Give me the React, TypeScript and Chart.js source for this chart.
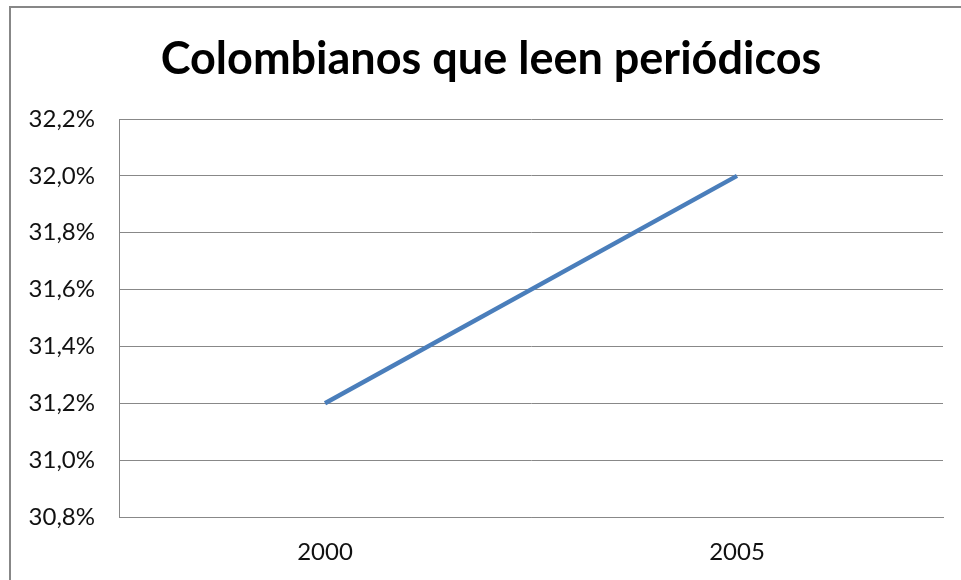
import React, { useEffect, useRef } from "react";
import { Chart, registerables } from "chart.js";

Chart.register(...registerables);

const titleText = "Colombianos que leen periódicos";
const categories = ["2000", "2005"];
const seriesValues = [31.2, 32.0];
const yMin = 30.8;
const yMax = 32.2;
const yStep = 0.2;

const framePlugin = {
  id: "frame",
  beforeDraw(chart: any) {
    const ctx = chart.ctx;
    ctx.save();
    ctx.fillStyle = "#ffffff";
    ctx.fillRect(0, 0, chart.width, chart.height);
    ctx.strokeStyle = "#878787";
    ctx.lineWidth = 2;
    ctx.strokeRect(10, 7, chart.width + 50, chart.height + 50);
    ctx.restore();
  },
  afterDraw(chart: any) {
    const ctx = chart.ctx;
    ctx.save();
    ctx.fillStyle = "#000000";
    ctx.font = "bold 45px Lato";
    ctx.textAlign = "center";
    ctx.textBaseline = "middle";
    ctx.fillText(titleText, 491, 59);
    ctx.restore();
  },
};

export default function App() {
  const ref = useRef<HTMLCanvasElement | null>(null);
  useEffect(() => {
    if (!ref.current) return;
    const chart = new Chart(ref.current, {
      type: "line",
      data: {
        labels: categories,
        datasets: [
          {
            data: seriesValues,
            borderColor: "#4a7ebb",
            borderWidth: 4.5,
            pointRadius: 0,
            fill: false,
            tension: 0,
          },
        ],
      },
      options: {
        animation: false,
        responsive: false,
        layout: { padding: { left: 10, right: 18, top: 119, bottom: 0 } },
        plugins: {
          legend: { display: false },
          tooltip: { enabled: false },
          title: { display: false },
        },
        scales: {
          x: {
            offset: true,
            grid: { display: false, drawTicks: false },
            border: { display: true, color: "#888888", width: 1 },
            ticks: {
              color: "#111111",
              font: { family: "Lato", size: 24 },
              padding: 21,
            },
            afterFit(axis: any) {
              axis.height = 63;
            },
          },
          y: {
            min: yMin,
            max: yMax,
            grid: { color: "#888888", lineWidth: 1, drawTicks: false },
            border: { display: true, color: "#888888", width: 1 },
            ticks: {
              stepSize: yStep,
              color: "#111111",
              font: { family: "Lato", size: 24 },
              padding: 24,
              callback: (v: any) => Number(v).toFixed(1).replace(".", ",") + "%",
            },
            afterFit(axis: any) {
              axis.width = 109;
            },
          },
        },
      },
      plugins: [framePlugin],
    });
    return () => chart.destroy();
  }, []);
  return (
    <canvas
      ref={ref}
      width={961}
      height={580}
      style={{ position: "absolute", left: 0, top: 0, width: 961, height: 580 }}
    />
  );
}
